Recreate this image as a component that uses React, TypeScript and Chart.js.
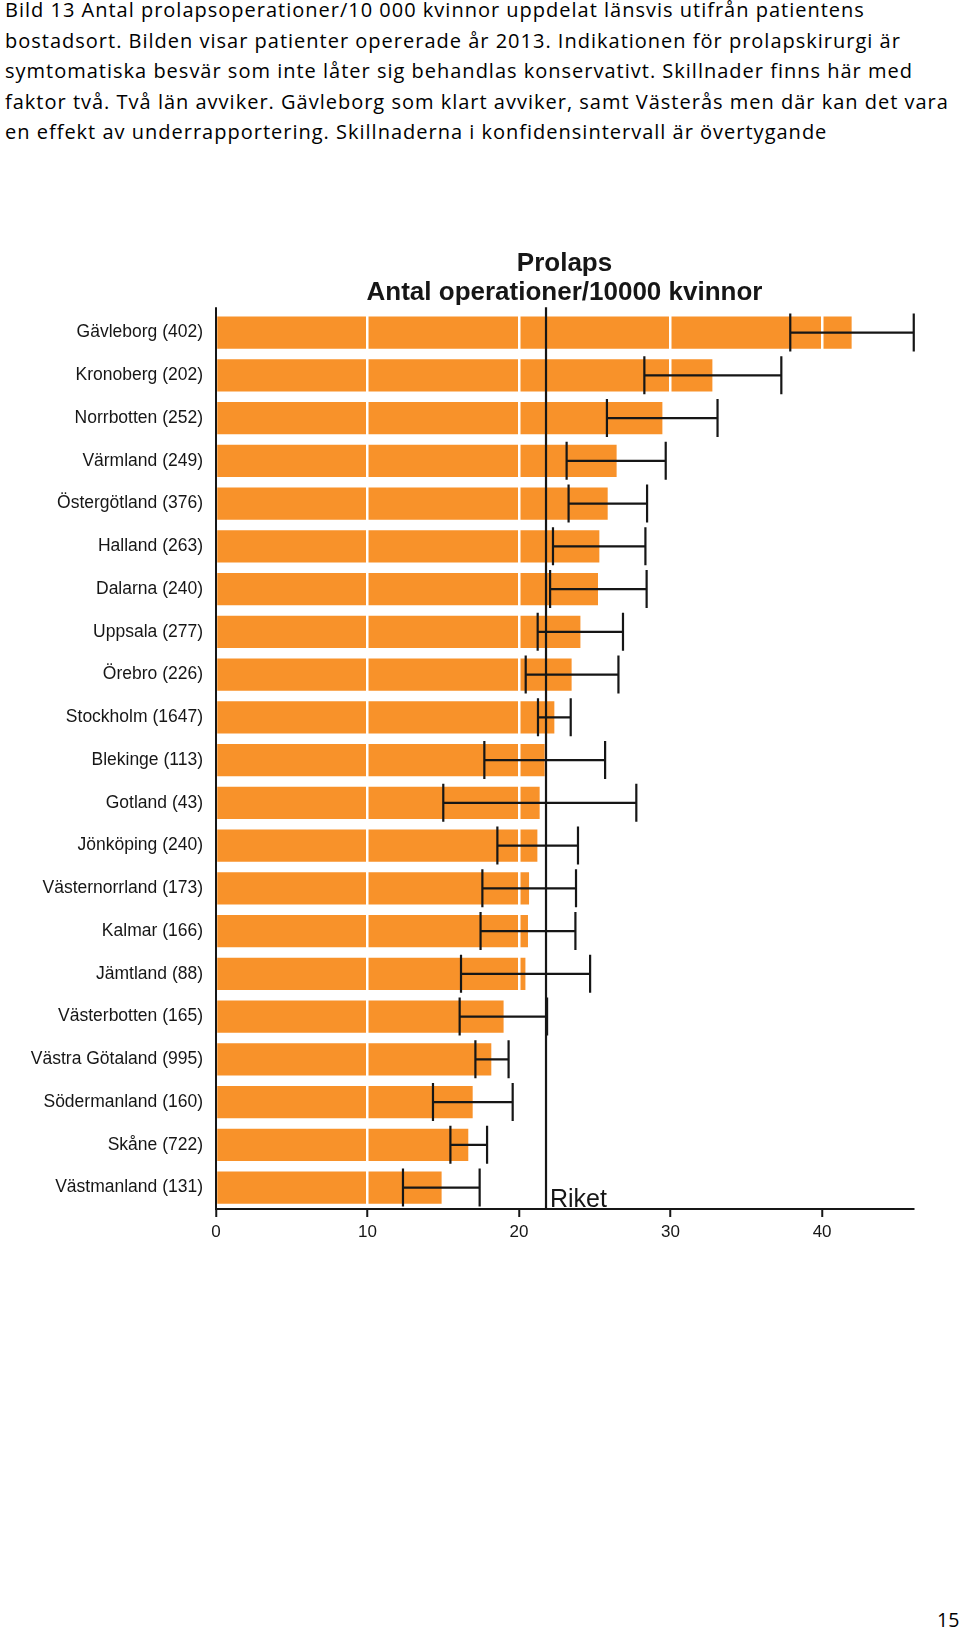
import React, { useEffect, useRef } from 'react';
import { Chart, registerables } from 'chart.js';

Chart.register(...registerables);

const counties = [
  'Gävleborg (402)',
  'Kronoberg (202)',
  'Norrbotten (252)',
  'Värmland (249)',
  'Östergötland (376)',
  'Halland (263)',
  'Dalarna (240)',
  'Uppsala (277)',
  'Örebro (226)',
  'Stockholm (1647)',
  'Blekinge (113)',
  'Gotland (43)',
  'Jönköping (240)',
  'Västernorrland (173)',
  'Kalmar (166)',
  'Jämtland (88)',
  'Västerbotten (165)',
  'Västra Götaland (995)',
  'Södermanland (160)',
  'Skåne (722)',
  'Västmanland (131)',
];

const rates = [41.95, 32.76, 29.46, 26.44, 25.85, 25.3, 25.21, 24.05, 23.47, 22.33, 21.69, 21.36, 21.21, 20.66, 20.59, 20.42, 18.98, 18.17, 16.94, 16.65, 14.89];
const ciLow = [37.9, 28.27, 25.8, 23.14, 23.27, 22.24, 22.05, 21.23, 20.44, 21.25, 17.71, 15.0, 18.57, 17.58, 17.46, 16.17, 16.08, 17.12, 14.32, 15.47, 12.34];
const ciHigh = [46.05, 37.31, 33.1, 29.68, 28.45, 28.34, 28.42, 26.86, 26.56, 23.41, 25.68, 27.74, 23.89, 23.76, 23.72, 24.69, 21.85, 19.31, 19.58, 17.89, 17.4];

const riketValue = 21.78;
const riketLabel = 'Riket';
const xTicks = [0, 10, 20, 30, 40];
const xMax = 46;
const titleLines = ['Prolaps', 'Antal operationer/10000 kvinnor'];

const captionLines = [
  'Bild 13 Antal prolapsoperationer/10 000 kvinnor uppdelat länsvis utifrån patientens',
  'bostadsort. Bilden visar patienter opererade år 2013. Indikationen för prolapskirurgi är',
  'symtomatiska besvär som inte låter sig behandlas konservativt. Skillnader finns här med',
  'faktor två. Två län avviker. Gävleborg som klart avviker, samt Västerås men där kan det vara',
  'en effekt av underrapportering. Skillnaderna i konfidensintervall är övertygande',
];
const pageNumber = '15';

const CHART_FONT = '"Liberation Sans", Arial, sans-serif';
const TEXT_FONT = '"Open Sans", "Liberation Sans", sans-serif';
const BAR_COLOR = 'rgb(248,146,42)';
const INK = '#161616';

export default function App() {
  const canvasRef = useRef<HTMLCanvasElement>(null);

  useEffect(() => {
    const canvas = canvasRef.current;
    if (!canvas) return;

    const overlay = {
      id: 'errorBarsAndRiket',
      afterDraw(chart: any) {
        const { ctx, chartArea, scales } = chart;
        const xs = scales.x;
        const ys = scales.y;
        ctx.save();
        ctx.strokeStyle = INK;
        ctx.lineWidth = 2.2;
        const capHalf = 19;
        counties.forEach((_, i) => {
          const yc = ys.getPixelForValue(i);
          const x1 = xs.getPixelForValue(ciLow[i]);
          const x2 = xs.getPixelForValue(ciHigh[i]);
          ctx.beginPath();
          ctx.moveTo(x1, yc);
          ctx.lineTo(x2, yc);
          ctx.moveTo(x1, yc - capHalf);
          ctx.lineTo(x1, yc + capHalf);
          ctx.moveTo(x2, yc - capHalf);
          ctx.lineTo(x2, yc + capHalf);
          ctx.stroke();
        });
        // Riket reference line
        const rx = xs.getPixelForValue(riketValue);
        ctx.beginPath();
        ctx.moveTo(rx, chartArea.top - 4);
        ctx.lineTo(rx, chartArea.bottom);
        ctx.stroke();
        // extend y axis line slightly above plot
        ctx.lineWidth = 2;
        ctx.beginPath();
        ctx.moveTo(chartArea.left, chartArea.top - 4);
        ctx.lineTo(chartArea.left, chartArea.top + 1);
        ctx.stroke();
        ctx.fillStyle = INK;
        ctx.font = `25px ${CHART_FONT}`;
        ctx.textBaseline = 'alphabetic';
        ctx.textAlign = 'left';
        ctx.fillText(riketLabel, rx + 4, chartArea.bottom - 2);
        ctx.restore();
      },
    };

    const chart = new Chart(canvas, {
      type: 'bar',
      data: {
        labels: counties,
        datasets: [
          {
            data: rates,
            backgroundColor: BAR_COLOR,
            borderWidth: 0,
            barPercentage: 0.757,
            categoryPercentage: 1,
          },
        ],
      },
      options: {
        indexAxis: 'y',
        animation: false,
        responsive: false,
        devicePixelRatio: 1,
        layout: { padding: { top: 0, right: 47, bottom: 11, left: 0 } },
        plugins: {
          legend: { display: false },
          tooltip: { enabled: false },
          title: {
            display: true,
            text: titleLines,
            fullSize: false,
            color: INK,
            font: { family: CHART_FONT, size: 26, weight: 'bold', lineHeight: 1.12 },
            padding: { top: 19, bottom: 4 },
          },
        },
        scales: {
          x: {
            type: 'linear',
            min: 0,
            max: xMax,
            afterBuildTicks: (s: any) => {
              s.ticks = xTicks.map((v) => ({ value: v }));
            },
            afterFit: (s: any) => {
              s.height = 40;
            },
            grid: {
              z: 1,
              color: (c: any) => (c.tick && c.tick.value === 0 ? 'rgba(0,0,0,0)' : '#ffffff'),
              lineWidth: 2.5,
              drawOnChartArea: true,
              drawTicks: true,
              tickColor: INK,
              tickLength: 8,
              tickWidth: 2,
            },
            border: { display: true, color: INK, width: 2, z: 2 },
            ticks: {
              color: INK,
              padding: 5,
              font: { family: CHART_FONT, size: 17 },
            },
          },
          y: {
            type: 'category',
            afterFit: (s: any) => {
              s.width = 216;
            },
            grid: { display: true, drawOnChartArea: false, drawTicks: false },
            border: { display: true, color: INK, width: 2, z: 2 },
            ticks: {
              color: INK,
              padding: 13,
              autoSkip: false,
              font: { family: CHART_FONT, size: 17.5 },
            },
          },
        },
      },
      plugins: [overlay],
    } as any);

    return () => {
      chart.destroy();
    };
  }, []);

  return (
    <div style={{ position: 'absolute', left: 0, top: 0, width: 960, height: 1632, background: '#fff', overflow: 'hidden' }}>
      <div
        style={{
          position: 'absolute',
          left: 5,
          top: -5,
          fontFamily: TEXT_FONT,
          fontSize: 20,
          letterSpacing: '1px',
          lineHeight: '30.5px',
          color: '#000',
          whiteSpace: 'nowrap',
          fontVariantLigatures: 'none',
        }}
      >
        {captionLines.map((l, i) => (
          <div key={i}>{l}</div>
        ))}
      </div>
      <canvas
        ref={canvasRef}
        width={960}
        height={1030}
        style={{ position: 'absolute', left: 0, top: 230, width: 960, height: 1030 }}
      />
      <div
        style={{
          position: 'absolute',
          left: 937,
          top: 1607,
          fontFamily: TEXT_FONT,
          fontSize: 19.5,
          lineHeight: '26px',
          color: '#000',
        }}
      >
        {pageNumber}
      </div>
    </div>
  );
}
